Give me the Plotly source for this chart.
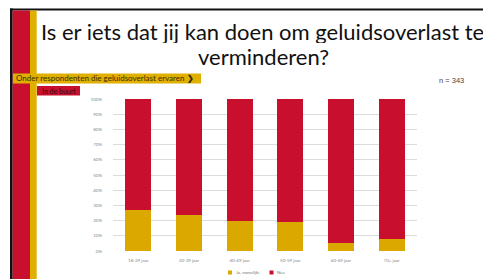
import plotly.graph_objects as go

categories = ["18-29 jaar", "30-39 jaar", "40-49 jaar", "50-59 jaar", "60-69 jaar", "70+ jaar"]
ja_values = [27, 24, 20, 19, 5, 8]
nee_values = [73, 76, 80, 81, 95, 92]
series_names = ["Ja, namelijk:", "Nee"]
y_tick_vals = [0, 10, 20, 30, 40, 50, 60, 70, 80, 90, 100]
y_tick_text = [f"{v}%" for v in y_tick_vals]

RED = "#C8102E"
YEL = "#DBA800"
OFF = 8  # page body margin of the exported html
W, H = 491 - OFF, 279 - OFF
L, R, T, B = 113, 417, 99, 251  # plot area in reference pixels


def px(x):
    return (x - L) / (R - L)


def py(y):
    return (B - y) / (B - T)


fig = go.Figure()
fig.add_trace(go.Bar(x=categories, y=ja_values, name=series_names[0], marker_color=YEL,
                     marker_line_width=0, showlegend=False))
fig.add_trace(go.Bar(x=categories, y=nee_values, name=series_names[1], marker_color=RED,
                     marker_line_width=0, showlegend=False))


def rect(x0, x1, y0, y1, color):
    return dict(type="rect", xref="paper", yref="paper", x0=px(x0), x1=px(x1), y0=py(y1), y1=py(y0),
                fillcolor=color, line_width=0, layer="above")


shapes = [
    rect(10, 500, 8.5, 10.5, "#111"),       # frame top
    rect(10, 12.7, 8.5, 290, "#111"),       # frame left
    rect(12.7, 30, 10.5, 290, RED),         # red stripe
    rect(30, 36.7, 10.5, 290, "#E0B000"),   # yellow stripe
    rect(13, 201, 73.5, 83.5, "#E0B000"),   # label box
    rect(37, 80, 86, 95.5, RED),            # "In de buurt" box
    rect(228, 232, 270.5, 274.5, YEL),      # legend squares
    rect(269.5, 273.5, 270.5, 274.5, RED),
]


def ann(text, x, y, size, color, xanchor="left", family="Lato", height=None):
    d = dict(text=text, x=px(x), y=py(y), xref="paper", yref="paper", xanchor=xanchor,
             yanchor="middle", showarrow=False, font=dict(family=family, size=size, color=color))
    if height:
        d["height"] = height
    return d


annotations = [
    ann("Is er iets dat jij kan doen om geluidsoverlast te", 39, 31.3, 22, "#111", height=24),
    ann("verminderen?", 263.5, 55.5, 22, "#111", xanchor="center", height=24),
    ann("Onder respondenten die geluidsoverlast ervaren <b>❯</b>", 14, 78.5, 8, "#3a2c00"),
    ann("In de buurt", 58.5, 90.8, 7, "#3a0a0a", xanchor="center"),
    ann("n = 343", 436.5, 80, 7.5, "#444", family="Liberation Sans"),
    ann(series_names[0], 233.5, 272.5, 4.5, "#777"),
    ann(series_names[1], 275, 272.5, 4.5, "#777"),
]

fig.update_layout(
    width=W, height=H,
    margin=dict(l=L - OFF, r=W - (R - OFF), t=T - OFF, b=H - (B - OFF), pad=0),
    barmode="stack", bargap=0.49,
    paper_bgcolor="white", plot_bgcolor="white",
    shapes=shapes, annotations=annotations,
    showlegend=False,
    xaxis=dict(showgrid=False, showline=False, zeroline=False, ticks="",
               tickfont=dict(family="Lato", size=4.5, color="#888"), ticklabelstandoff=5),
    yaxis=dict(range=[0, 100], tickvals=y_tick_vals, ticktext=y_tick_text, showgrid=True,
               gridcolor="#dcdcdc", gridwidth=1, zeroline=False, showline=False, ticks="",
               tickfont=dict(family="Lato", size=4.5, color="#888"), ticklabelstandoff=10),
)

fig.write_html("out.html")
